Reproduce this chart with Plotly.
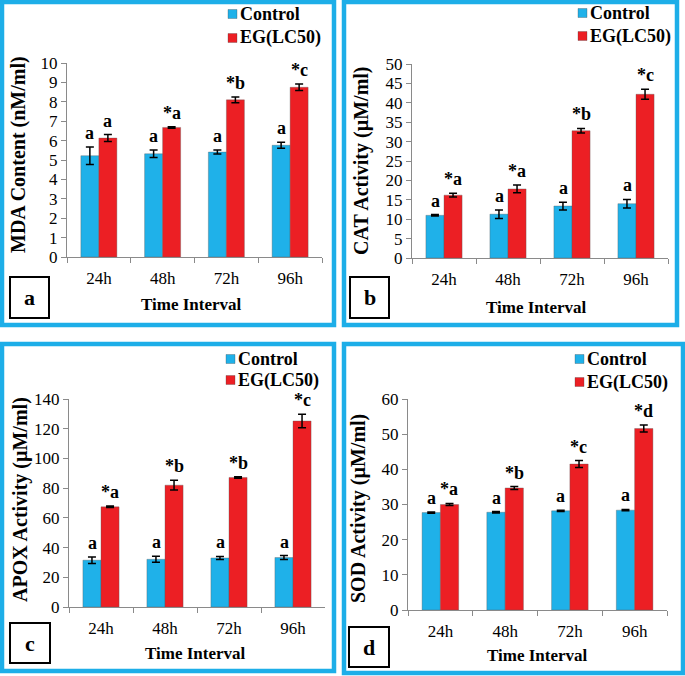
import plotly.graph_objects as go

W, H = 685, 676

categories = ["24h", "48h", "72h", "96h"]
series_names = ["Control", "EG(LC50)"]

# Panel a: MDA content
mda_ctrl = [5.22, 5.32, 5.41, 5.76]
mda_ctrl_err = [0.45, 0.19, 0.10, 0.15]
mda_eg = [6.13, 6.68, 8.10, 8.75]
mda_eg_err = [0.18, 0.04, 0.15, 0.17]
mda_ctrl_lbl = ["a", "a", "a", "a"]
mda_eg_lbl = ["a", "*a", "*b", "*c"]

# Panel b: CAT activity
cat_ctrl = [11.0, 11.3, 13.4, 14.0]
cat_ctrl_err = [0.2, 1.1, 1.0, 1.1]
cat_eg = [16.2, 17.8, 32.8, 42.2]
cat_eg_err = [0.5, 1.0, 0.6, 1.3]
cat_ctrl_lbl = ["a", "a", "a", "a"]
cat_eg_lbl = ["*a", "*a", "*b", "*c"]

# Panel c: APOX activity
apox_ctrl = [31.5, 32.1, 33.0, 33.3]
apox_ctrl_err = [2.2, 2.0, 1.0, 1.3]
apox_eg = [67.4, 82.0, 87.2, 125.2]
apox_eg_err = [0.5, 3.3, 0.5, 4.6]
apox_ctrl_lbl = ["a", "a", "a", "a"]
apox_eg_lbl = ["*a", "*b", "*b", "*c"]

# Panel d: SOD activity
sod_ctrl = [27.7, 27.8, 28.2, 28.4]
sod_ctrl_err = [0.2, 0.2, 0.2, 0.2]
sod_eg = [30.0, 34.7, 41.5, 51.6]
sod_eg_err = [0.3, 0.4, 1.0, 1.0]
sod_ctrl_lbl = ["a", "a", "a", "a"]
sod_eg_lbl = ["*a", "*b", "*c", "*d"]

y_titles = ["MDA Content (nM/ml)", "CAT Activity (\u00b5M/ml)",
            "APOX Activity (\u00b5M/ml)", "SOD Activity (\u00b5M/ml)"]
y_ranges = [[0, 10], [0, 50], [0, 140], [0, 60]]
y_dticks = [1, 5, 20, 10]
panel_letters = ["a", "b", "c", "d"]
x_title = "Time Interval"

CTRL_COLOR = "#1FB1E9"
EG_COLOR = "#EC1F24"
BORDER = "#1DAEE8"
FONT = "Liberation Serif"

# layout geometry in pixels
plot_boxes = [  # x0, x1, ytop, ybottom
    (67, 322, 63, 257),
    (412, 668, 64, 258),
    (69, 325, 399, 607),
    (408, 667, 399, 610),
]
frames = [  # stroke centres x0, x1, y0, y1
    (2, 334, 2, 325),
    (344, 677, 2, 325),
    (2, 334, 344, 671),
    (344, 683, 344, 673),
]
letter_boxes = [(10, 49, 277, 318), (350, 389, 277, 318),
                (10, 50, 623, 663), (349, 389, 627, 667)]
ytitle_pos = [(18, 155), (361, 160), (20, 500), (358, 509)]
xtitle_pos = [(191, 305), (536, 307), (196, 653), (537, 655)]
# legend text left x, and centre y of the Control / EG items
legend_x = [240, 590, 238, 587]
legend_cy = [(14, 38), (13, 36), (359, 380), (359, 382)]


def px(x):
    return x / W


def py(y):
    return 1 - y / H


panels = [
    (mda_ctrl, mda_ctrl_err, mda_eg, mda_eg_err, mda_ctrl_lbl, mda_eg_lbl),
    (cat_ctrl, cat_ctrl_err, cat_eg, cat_eg_err, cat_ctrl_lbl, cat_eg_lbl),
    (apox_ctrl, apox_ctrl_err, apox_eg, apox_eg_err, apox_ctrl_lbl, apox_eg_lbl),
    (sod_ctrl, sod_ctrl_err, sod_eg, sod_eg_err, sod_ctrl_lbl, sod_eg_lbl),
]

fig = go.Figure()
annotations = []
shapes = []
layout = {}

for i, (c, ce, e, ee, cl, el) in enumerate(panels):
    n = i + 1
    sfx = "" if n == 1 else str(n)
    xa, ya = "x" + sfx, "y" + sfx
    for j, (name, vals, errs, color) in enumerate(
            [(series_names[0], c, ce, CTRL_COLOR), (series_names[1], e, ee, EG_COLOR)]):
        fig.add_trace(go.Bar(
            x=categories, y=vals, name=name, xaxis=xa, yaxis=ya,
            marker=dict(color=color, line=dict(color="rgba(90,90,90,0.45)", width=0.8)),
            error_y=dict(type="data", array=errs, visible=True, color="black",
                         thickness=1.5, width=4),
            showlegend=False,
        ))
        # legend entry: coloured square + bold name
        lx, cy = legend_x[i], legend_cy[i][j]
        shapes.append(dict(type="rect", xref="paper", yref="paper",
                           x0=px(lx - 12), x1=px(lx - 3), y0=py(cy + 4.5), y1=py(cy - 4.5),
                           fillcolor=color, line=dict(color="rgba(60,60,60,0.5)", width=0.6)))
        annotations.append(dict(
            x=px(lx - 2), y=py(cy), xref="paper", yref="paper", text=name,
            showarrow=False, xanchor="left", yanchor="middle",
            font=dict(family=FONT, size=18, color="black", weight="bold"),
        ))
    x0, x1, yt, yb = plot_boxes[i]
    layout["xaxis" + sfx] = dict(
        domain=[px(x0), px(x1)], anchor=ya, type="category",
        range=[-0.5, 3.5], showline=True, linecolor="#8a8a8a", linewidth=1,
        ticks="outside", tickson="boundaries", ticklen=5, tickcolor="#8a8a8a",
        tickfont=dict(family=FONT, size=17, color="black"), showgrid=False,
        zeroline=False, automargin=False, ticklabelstandoff=6,
    )
    layout["yaxis" + sfx] = dict(
        domain=[py(yb), py(yt)], anchor=xa, range=y_ranges[i], dtick=y_dticks[i],
        showline=True, linecolor="#8a8a8a", linewidth=1, ticks="outside",
        ticklen=5, tickcolor="#8a8a8a", showgrid=False, zeroline=False,
        tickfont=dict(family=FONT, size=17, color="black"), automargin=False,
    )
    # significance letters
    for k, cat in enumerate(categories):
        for vals, errs, lbls, shift in [(c, ce, cl, -9), (e, ee, el, 9)]:
            annotations.append(dict(
                x=cat, y=vals[k] + errs[k], xref=xa, yref=ya, text=lbls[k],
                showarrow=False, xanchor="center", yanchor="bottom",
                xshift=shift, yshift=2,
                font=dict(family=FONT, size=18, color="black", weight="bold"),
            ))
    # axis titles
    tx, ty = ytitle_pos[i]
    annotations.append(dict(
        x=px(tx), y=py(ty), xref="paper", yref="paper", text=y_titles[i],
        textangle=-90, showarrow=False, xanchor="center", yanchor="middle",
        font=dict(family=FONT, size=20, color="black", weight="bold"),
    ))
    tx, ty = xtitle_pos[i]
    annotations.append(dict(
        x=px(tx), y=py(ty), xref="paper", yref="paper", text=x_title,
        showarrow=False, xanchor="center", yanchor="middle",
        font=dict(family=FONT, size=17, color="black", weight="bold"),
    ))
    # panel letter box
    bx0, bx1, by0, by1 = letter_boxes[i]
    shapes.append(dict(type="rect", xref="paper", yref="paper",
                       x0=px(bx0), x1=px(bx1), y0=py(by1), y1=py(by0),
                       line=dict(color="black", width=2), fillcolor="white"))
    annotations.append(dict(
        x=px((bx0 + bx1) / 2), y=py((by0 + by1) / 2), xref="paper", yref="paper",
        text=panel_letters[i], showarrow=False, xanchor="center", yanchor="middle",
        font=dict(family=FONT, size=22, color="black", weight="bold"),
    ))
    # panel frame
    fx0, fx1, fy0, fy1 = frames[i]
    shapes.append(dict(type="rect", xref="paper", yref="paper",
                       x0=px(fx0), x1=px(fx1), y0=py(fy1), y1=py(fy0),
                       line=dict(color=BORDER, width=4.5), layer="below"))

fig.update_layout(
    width=W, height=H, margin=dict(l=0, r=0, t=0, b=0, autoexpand=False),
    paper_bgcolor="white", plot_bgcolor="white",
    font=dict(family=FONT, color="black"),
    barmode="group", bargap=0.435, bargroupgap=0, showlegend=False,
    annotations=annotations, shapes=shapes, **layout,
)

fig.write_html("out.html", config={"displayModeBar": False},
               post_script="document.body.style.margin='0';")
